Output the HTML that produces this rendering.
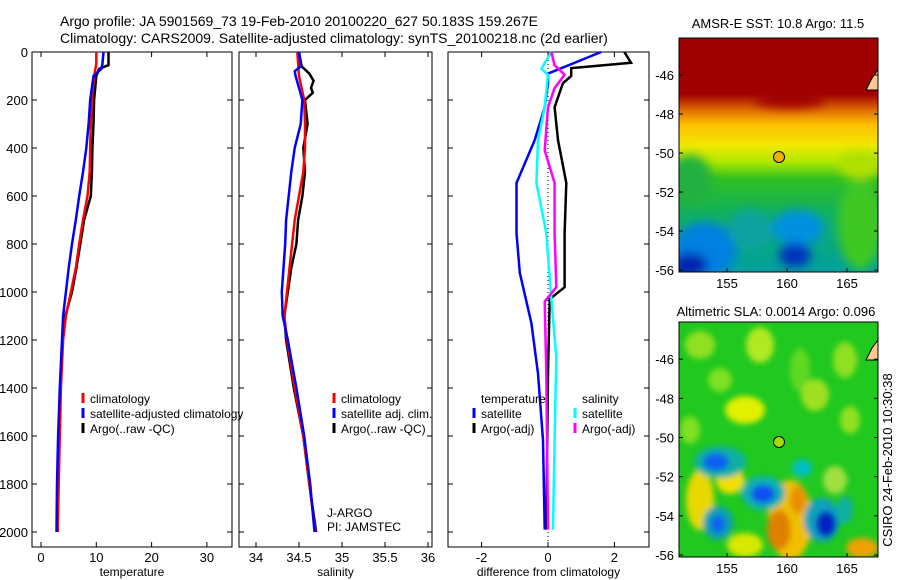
<!DOCTYPE html>
<html><head><meta charset="utf-8"><style>
body{margin:0;background:#fff;}
svg{display:block;font-family:"Liberation Sans",sans-serif;font-size:13px;}
.lg{font-size:12px;}
</style></head><body>
<svg id="fig" width="900" height="580" viewBox="0 0 900 580">
<defs>
<filter id="bl" x="-50%" y="-50%" width="200%" height="200%"><feGaussianBlur stdDeviation="5"/></filter>
<filter id="bl2" x="-50%" y="-50%" width="200%" height="200%"><feGaussianBlur stdDeviation="3"/></filter>
<linearGradient id="sstg" x1="0" y1="0" x2="0" y2="1">
<stop offset="0" stop-color="#a00000"/><stop offset="0.24" stop-color="#a00000"/>
<stop offset="0.31" stop-color="#e07000"/><stop offset="0.37" stop-color="#ffc000"/>
<stop offset="0.46" stop-color="#f0e800"/><stop offset="0.53" stop-color="#b0e800"/>
<stop offset="0.6" stop-color="#30c020"/><stop offset="0.75" stop-color="#10b060"/>
<stop offset="1" stop-color="#00a0a0"/></linearGradient>
<clipPath id="c1"><rect x="679" y="38" width="199" height="234"/></clipPath>
<clipPath id="c2"><rect x="679" y="322" width="199" height="235"/></clipPath>
</defs>
<text x="60" y="26" style="font-size:14px">Argo profile: JA 5901569_73 19-Feb-2010 20100220_627 50.183S 159.267E</text>
<text x="60" y="43" style="font-size:14px">Climatology: CARS2009. Satellite-adjusted climatology: synTS_20100218.nc (2d earlier)</text>
<g id="plots"></g>

<g>
<text x="778" y="28" text-anchor="middle">AMSR-E SST: 10.8 Argo: 11.5</text>
<g clip-path="url(#c1)">
<rect x="679" y="38" width="199" height="234" fill="url(#sstg)"/>
<g filter="url(#bl)">
<ellipse cx="690" cy="180" rx="22" ry="25" fill="#20b040"/>
<ellipse cx="705" cy="250" rx="32" ry="28" fill="#0080e0"/>
<ellipse cx="690" cy="265" rx="18" ry="12" fill="#0020b0"/>
<ellipse cx="798" cy="228" rx="26" ry="18" fill="#0090e0"/>
<ellipse cx="795" cy="255" rx="16" ry="12" fill="#0030c0"/>
<ellipse cx="750" cy="230" rx="22" ry="20" fill="#10a0a0"/>
<ellipse cx="860" cy="225" rx="22" ry="45" fill="#40c820"/>
<ellipse cx="860" cy="165" rx="22" ry="14" fill="#b0e000"/>
<ellipse cx="790" cy="100" rx="35" ry="8" fill="#a00000"/>
</g>
</g>
<rect x="679" y="38" width="199" height="234" fill="none" stroke="#000"/>
<circle cx="779" cy="157" r="5.5" fill="#f0b000" stroke="#000"/>
<path d="M866 90 l6-12 l6-8 v20 z" fill="#ffc890" stroke="#000"/>
</g>

<g>
<text x="776" y="316" text-anchor="middle">Altimetric SLA: 0.0014 Argo: 0.096</text>
<g clip-path="url(#c2)">
<rect x="679" y="322" width="199" height="235" fill="#20c820"/>
<g filter="url(#bl2)">
<ellipse cx="700" cy="345" rx="15" ry="14" fill="#90e020"/>
<ellipse cx="760" cy="345" rx="14" ry="18" fill="#b0e820"/>
<ellipse cx="720" cy="380" rx="12" ry="12" fill="#80e020"/>
<ellipse cx="800" cy="370" rx="10" ry="22" fill="#60d820"/>
<ellipse cx="845" cy="360" rx="12" ry="18" fill="#90e020"/>
<ellipse cx="745" cy="410" rx="20" ry="14" fill="#e0f000"/>
<ellipse cx="815" cy="395" rx="14" ry="16" fill="#a0e020"/>
<ellipse cx="850" cy="420" rx="10" ry="14" fill="#90e020"/>
<ellipse cx="690" cy="430" rx="10" ry="14" fill="#80e020"/>
<ellipse cx="730" cy="480" rx="14" ry="14" fill="#f0e000"/>
<ellipse cx="700" cy="500" rx="14" ry="30" fill="#e8d800"/>
<ellipse cx="790" cy="520" rx="22" ry="40" fill="#f0c000"/>
<ellipse cx="779" cy="530" rx="12" ry="20" fill="#e08000"/>
<ellipse cx="798" cy="500" rx="8" ry="14" fill="#e89000"/>
<ellipse cx="745" cy="545" rx="18" ry="12" fill="#d8e800"/>
<ellipse cx="862" cy="548" rx="16" ry="10" fill="#f0a000"/>
<ellipse cx="835" cy="480" rx="12" ry="14" fill="#a0e040"/>
<ellipse cx="720" cy="462" rx="26" ry="16" fill="#10b0a0"/>
<ellipse cx="716" cy="462" rx="13" ry="9" fill="#1060f0"/>
<ellipse cx="763" cy="493" rx="22" ry="17" fill="#10b0b0"/>
<ellipse cx="763" cy="494" rx="12" ry="9" fill="#1050f0"/>
<ellipse cx="802" cy="468" rx="10" ry="9" fill="#00c0c0"/>
<ellipse cx="718" cy="523" rx="15" ry="17" fill="#10a0b0"/>
<ellipse cx="718" cy="524" rx="7" ry="9" fill="#1060f0"/>
<ellipse cx="822" cy="520" rx="18" ry="22" fill="#10a0c0"/>
<ellipse cx="826" cy="524" rx="10" ry="13" fill="#0020c0"/>
<ellipse cx="845" cy="510" rx="8" ry="14" fill="#10b0a0"/>
</g>
</g>
<rect x="679" y="322" width="199" height="235" fill="none" stroke="#000"/>
<circle cx="779" cy="442" r="5.5" fill="#a0e000" stroke="#000"/>
<path d="M866 360 l6-12 l6-8 v20 z" fill="#ffc890" stroke="#000"/>
</g>
<text transform="translate(892,460) rotate(-90)" text-anchor="middle">CSIRO 24-Feb-2010 10:30:38</text>
</svg>
<script>
// ---- data ----
const depthTicks=[0,200,400,600,800,1000,1200,1400,1600,1800,2000];
const tempTicks=[0,10,20,30];
const salTicks=[34,34.5,35,35.5,36];
const salTickLabels=["34","34.5","35","35.5","36"];
const diffTicks=[-2,0,2];
const tClimD=[0,50,100,200,300,400,500,600,700,800,900,1000,1100,1200,1400,1600,1800,2000];
const tClim=[10.0,10.0,9.6,9.2,9.0,8.9,8.8,8.4,7.6,6.9,6.3,5.4,4.5,4.0,3.6,3.4,3.2,3.0];
const tSatD=[0,50,70,100,200,300,400,500,600,700,800,900,1000,1100,1200,1400,1600,1800,2000];
const tSat=[11.3,11.1,10.9,9.5,8.9,8.6,8.2,7.6,6.9,6.3,5.6,5.0,4.5,4.0,3.8,3.4,3.1,2.9,2.8];
const tArgoD=[0,55,70,100,200,300,400,500,600,700,800,900,1000,1100,1200,1400,1600,1800,2000];
const tArgo=[12.2,12.2,10.5,10.0,9.6,9.5,9.3,9.2,9.0,7.8,7.1,6.4,5.6,4.4,3.9,3.5,3.3,3.1,3.0];
const sClimD=[0,100,200,300,400,500,600,700,800,900,1000,1100,1200,1400,1600,1800,2000];
const sClim=[34.48,34.50,34.56,34.57,34.57,34.55,34.50,34.45,34.42,34.39,34.36,34.33,34.36,34.45,34.55,34.62,34.69];
const sSatD=[0,60,80,100,200,300,400,500,600,700,800,900,1000,1100,1200,1400,1600,1800,2000];
const sSat=[34.50,34.52,34.45,34.46,34.54,34.52,34.45,34.41,34.38,34.35,34.34,34.32,34.30,34.31,34.37,34.47,34.56,34.63,34.68];
const sArgoD=[0,60,90,120,150,170,200,300,400,500,600,700,800,900,1000,1100,1200,1400,1600,1800,2000];
const sArgo=[34.50,34.53,34.62,34.67,34.64,34.66,34.57,34.60,34.55,34.57,34.54,34.49,34.47,34.41,34.37,34.33,34.35,34.44,34.55,34.62,34.70];
const dTSatD=[0,90,130,230,367,546,755,920,1130,1340,1617,1990];
const dTSat=[1.6,0,0,-0.1,-0.4,-0.95,-0.95,-0.85,-0.5,-0.3,-0.15,-0.1];
const dTArgoD=[0,45,67,100,130,230,367,546,755,980,1030,1340,1990];
const dTArgo=[2.3,2.5,0.7,0.7,0.45,0.2,0.3,0.55,0.5,0.5,0.05,0,-0.05];
const dSSatD=[0,70,95,230,367,546,755,1030,1270,1617,1990];
const dSSat=[0.1,-0.2,0,-0.1,-0.3,-0.35,-0.05,0.1,0.25,0.2,0.15];
const dSArgoD=[0,55,95,150,230,410,546,755,980,1040,1340,1990];
const dSArgo=[0.1,0.2,0.5,0.2,0,-0.1,0.2,0.2,0.25,-0.1,-0.05,0];
const latTicks=[-46,-48,-50,-52,-54,-56];
const lonTicks=[155,160,165];

// ---- axes ----
const NS="http://www.w3.org/2000/svg";
const g=document.getElementById('plots');
const Y=d=>52+d*0.24;
const X1=v=>41+v*5.53, X2=v=>256+(v-34)*86, X3=v=>548+v*33.2;
function mk(t,a,p){const e=document.createElementNS(NS,t);for(const k in a)e.setAttribute(k,a[k]);(p||g).appendChild(e);return e;}
function panel(name,x0,x1,sx,ticks,labels,xlabel,yl){
  const r=mk('rect',{x:x0,y:52,width:x1-x0,height:495,fill:'none',stroke:'#000'});
  
  
  depthTicks.forEach(d=>{
    mk('line',{x1:x0,x2:x0+5,y1:Y(d),y2:Y(d),stroke:'#000'});
    mk('line',{x1:x1-5,x2:x1,y1:Y(d),y2:Y(d),stroke:'#000'});
    if(yl){const t=mk('text',{x:28,y:Y(d)+5,'text-anchor':'end'});t.textContent=d;
      
      }
  });
  ticks.forEach((v,i)=>{
    mk('line',{x1:sx(v),x2:sx(v),y1:52,y2:57,stroke:'#000'});
    mk('line',{x1:sx(v),x2:sx(v),y1:542,y2:547,stroke:'#000'});
    const t=mk('text',{x:sx(v),y:562,'text-anchor':'middle'});t.textContent=labels[i];
    
    
  });
  const xl=mk('text',{x:(x0+x1)/2,y:576,'text-anchor':'middle','class':'lg'});xl.textContent=xlabel;
  
  
}
function line(name,sx,vals,ds,color,w){
  const p=mk('polyline',{points:vals.map((v,i)=>sx(v).toFixed(1)+','+Y(ds[i]).toFixed(1)).join(' '),fill:'none',stroke:color,'stroke-width':w||2.5});
  
  
}
function legend(x,y,color,label){
  if(color)mk('line',{x1:x,x2:x,y1:y-10,y2:y,stroke:color,'stroke-width':3});
  const t=mk('text',{x:x+7,y:y,'class':'lg'});t.textContent=label;
  
  
}
panel('temperature-panel',32,232,X1,tempTicks,tempTicks.map(String),'temperature',true);
panel('salinity-panel',239,432,X2,salTicks,salTickLabels,'salinity',false);
panel('difference-panel',448,649,X3,diffTicks,diffTicks.map(String),'difference from climatology',false);
mk('line',{x1:X3(0),x2:X3(0),y1:52,y2:547,stroke:'#000','stroke-dasharray':'1,3'});
line('temp-argo-line',X1,tArgo,tArgoD,'#000');
line('temp-clim-line',X1,tClim,tClimD,'#f00');
line('temp-sat-line',X1,tSat,tSatD,'#00f');
line('sal-argo-line',X2,sArgo,sArgoD,'#000');
line('sal-clim-line',X2,sClim,sClimD,'#f00');
line('sal-sat-line',X2,sSat,sSatD,'#00f');
line('diff-temp-argo-line',X3,dTArgo,dTArgoD,'#000');
line('diff-temp-sat-line',X3,dTSat,dTSatD,'#00f');
line('diff-sal-sat-line',X3,dSSat,dSSatD,'#0ff');
line('diff-sal-argo-line',X3,dSArgo,dSArgoD,'#f0f');
legend(83,403,'#f00','climatology');legend(83,418,'#00f','satellite-adjusted climatology');legend(83,433,'#000','Argo(..raw -QC)');
legend(334,403,'#f00','climatology');legend(334,418,'#00f','satellite adj. clim.');legend(334,433,'#000','Argo(..raw -QC)');
legend(474,403,null,'temperature');legend(474,418,'#00f','satellite');legend(474,433,'#000','Argo(-adj)');
legend(575,403,null,'salinity');legend(575,418,'#0ff','satellite');legend(575,433,'#f0f','Argo(-adj)');
const t1=mk('text',{x:327,y:517,'class':'lg'});t1.textContent='J-ARGO';


const t2=mk('text',{x:327,y:531,'class':'lg'});t2.textContent='PI: JAMSTEC';


// map ticks
const fig=document.getElementById('fig');
[[38,272],[322,557]].forEach(([top,bot],k)=>{
  const LY=lat=>top+(-44.1-lat)*((bot-top)/12);
  const LX=lon=>679+(lon-151)*12;
  latTicks.forEach(l=>{
    mk('line',{x1:679,x2:683,y1:LY(l),y2:LY(l),stroke:'#000'},fig);
    mk('line',{x1:874,x2:878,y1:LY(l),y2:LY(l),stroke:'#000'},fig);
    const t=mk('text',{x:674,y:LY(l)+5,'text-anchor':'end'},fig);t.textContent=l;
    
    
  });
  lonTicks.forEach(l=>{
    mk('line',{x1:LX(l),x2:LX(l),y1:bot-4,y2:bot,stroke:'#000'},fig);
    const t=mk('text',{x:LX(l),y:bot+16,'text-anchor':'middle'},fig);t.textContent=l;
    
    
  });
});
</script>
</body></html>
